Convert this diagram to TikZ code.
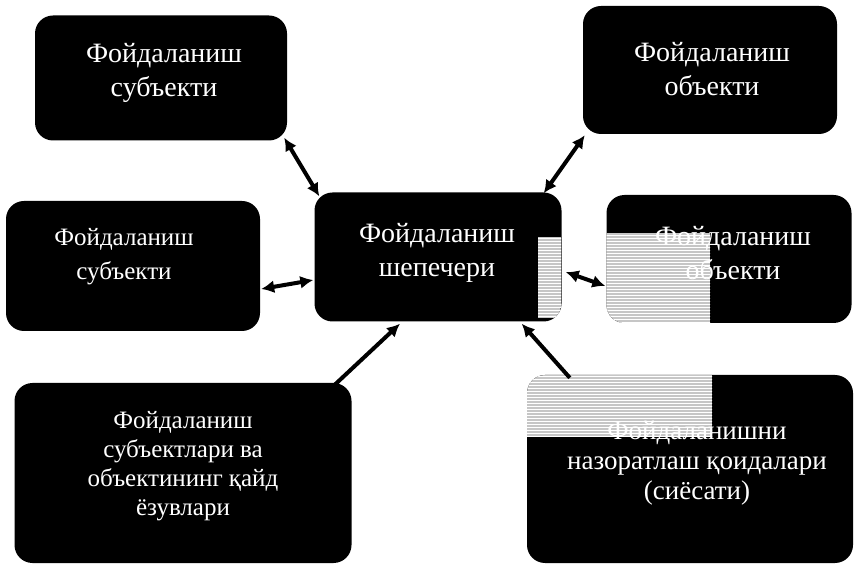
\documentclass[tikz,border=0pt]{standalone}
\usepackage{fontspec}
\setmainfont{Liberation Serif}
\usetikzlibrary{arrows.meta,patterns}
\begin{document}
\begin{tikzpicture}[x=1pt,y=-1pt,
  box/.style={fill=black,rounded corners=18pt,inner sep=0pt},
  lbl/.style={text=white,align=center,inner sep=0pt},
  big/.style={font=\fontsize{28}{34}\selectfont},
  mlf/.style={font=\fontsize{25}{34}\selectfont},
  mid/.style={font=\fontsize{25}{29}\selectfont},
  brf/.style={font=\fontsize{27}{30}\selectfont},
  arr/.style={line width=4pt,draw=black},
  both/.style={arr,{Latex[length=13pt,width=13pt]}-{Latex[length=13pt,width=13pt]}},
  one/.style={arr,-{Latex[length=13pt,width=13pt]}},
  patch/.style={sharp corners,fill=gray!45},
  lines/.style={sharp corners,pattern=horizontal lines,pattern color=white}]
\useasboundingbox[fill=white] (0,0) rectangle (855,569);
% boxes
\node[box,minimum width=252pt,minimum height=125pt] (tl) at (161,78) {};
\node[box,minimum width=254pt,minimum height=128pt] (tr) at (710,70) {};
\node[box,minimum width=254pt,minimum height=130pt] (ml) at (133,266) {};
\node[box,minimum width=247pt,minimum height=129pt,
  path picture={\fill[patch] (100,-20) rectangle (123,61);
                \fill[lines] (100,-20) rectangle (123,61);}] (c) at (438,257) {};
\node[box,minimum width=245pt,minimum height=128pt,
  path picture={\fill[patch] (-129,-26) rectangle (-19,71);
                \fill[lines] (-129,-26) rectangle (-19,71);}] (mr) at (729,259) {};
\node[box,minimum width=337pt,minimum height=180pt] (bl) at (183,473) {};
\node[box,minimum width=326pt,minimum height=188pt,
  path picture={\fill[patch] (-170,-99) rectangle (22,-32);
                \fill[lines] (-170,-99) rectangle (22,-32);}] (br) at (690,469) {};
% labels
\node[lbl,big] (tlt) at (164,73) {Фойдаланиш\\субъекти};
\node[lbl,big] (trt) at (712,69) {Фойдаланиш\\объекти};
\node[lbl,mlf] (mlt) at (124,257) {Фойдаланиш\\субъекти};
\node[lbl,big] (ct) at (437,253) {Фойдаланиш\\шепечери};
\node[lbl,big] (mrt) at (733,253) {Фойдаланиш\\объекти};
\node[lbl,mid] (blt) at (183,466) {Фойдаланиш\\субъектлари ва\\объектининг қайд\\ёзувлари};
\node[lbl,brf] (brt) at (697,463) {Фойдаланишни\\назоратлаш қоидалари\\(сиёсати)};
% connectors
\draw[both] ([shift={(-3,-3)}]tl.south east) -- ([shift={(5,4)}]c.north west);
\draw[both] ([shift={(2,1)}]tr.south west) -- ([shift={(-18,1)}]c.north east);
\draw[both] ([shift={(1,23)}]ml.east) -- ([shift={(-1,23)}]c.west);
\draw[both] ([shift={(4,15)}]c.east) -- ([shift={(-1,27)}]mr.west);
\draw[one] ([shift={(-17,2)}]bl.north east) -- ([shift={(-38,2)}]c.south);
\draw[one] ([shift={(43,3)}]br.north west) -- ([shift={(-40,2)}]c.south east);
\end{tikzpicture}
\end{document}
